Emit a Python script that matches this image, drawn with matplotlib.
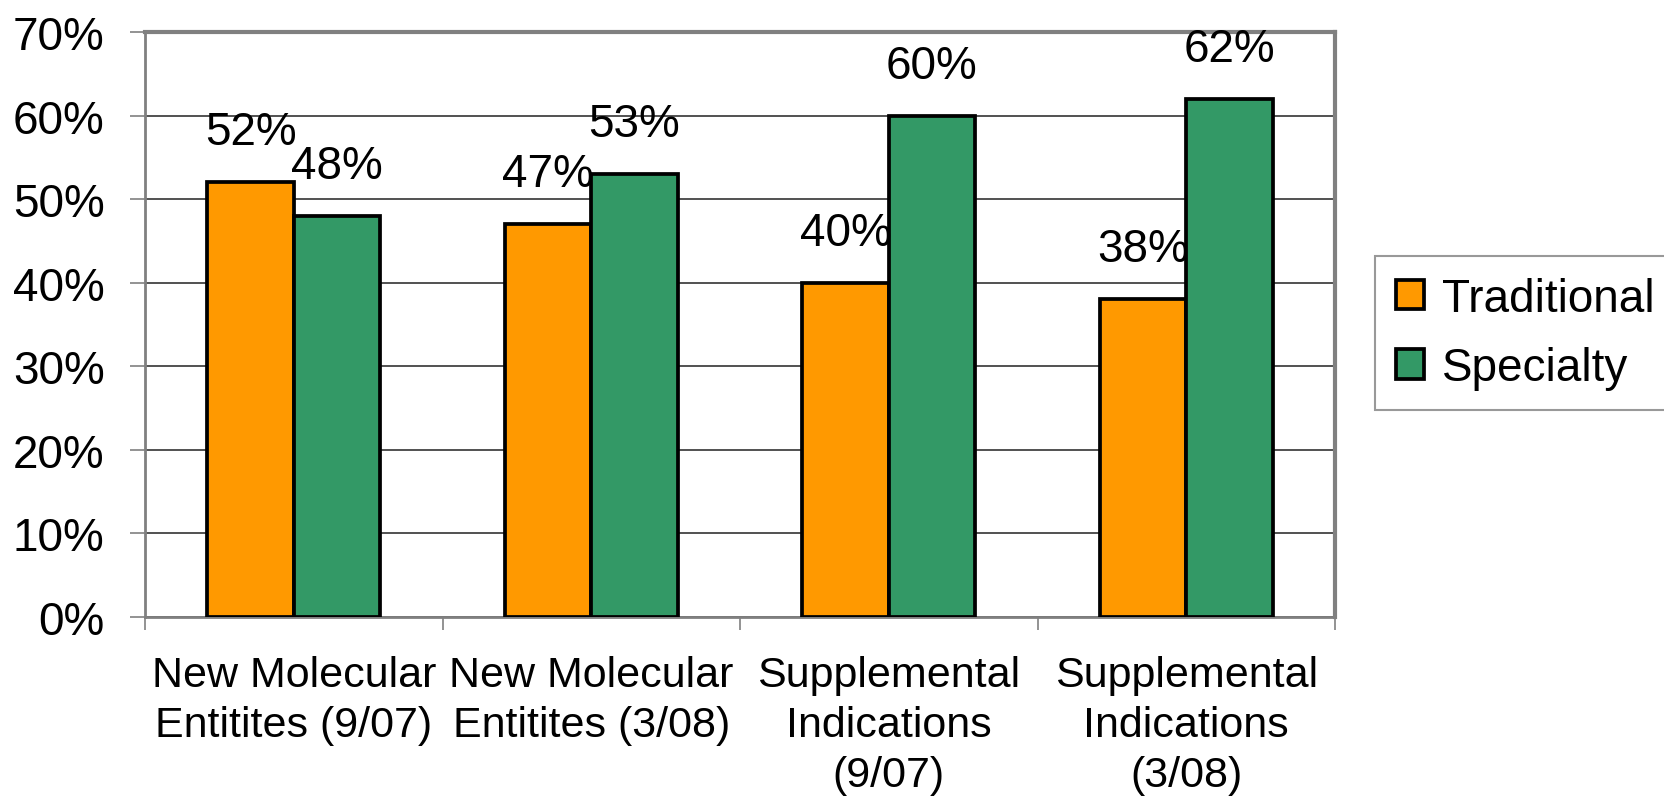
import numpy as np
import matplotlib
matplotlib.use("Agg")
import matplotlib.pyplot as plt

# Share of approvals by drug type
categories = [
    "New Molecular\nEntitites (9/07)",
    "New Molecular\nEntitites (3/08)",
    "Supplemental\nIndications\n(9/07)",
    "Supplemental\nIndications\n(3/08)",
]
traditional = [52, 47, 40, 38]
specialty = [48, 53, 60, 62]
series_names = ["Traditional", "Specialty"]
y_ticks = [0, 10, 20, 30, 40, 50, 60, 70]

ORANGE = "#FF9900"
GREEN = "#339966"
GRAY = "#808080"

plt.rcParams["font.family"] = ["Liberation Sans", "DejaVu Sans"]
FS = 33
FS_CAT = 31

fig = plt.figure(figsize=(16.65, 8.12), dpi=100)
ax = fig.add_axes([0.0871, 0.2389, 0.7147, 0.7205])

x = np.arange(len(categories))
width = 0.29
bars_t = ax.bar(x - width / 2, traditional, width, color=ORANGE,
                edgecolor="black", linewidth=2.7, label=series_names[0], zorder=3)
bars_s = ax.bar(x + width / 2, specialty, width, color=GREEN,
                edgecolor="black", linewidth=2.7, label=series_names[1], zorder=3)

# Value labels sit a fixed distance above each bar
for bars, vals in ((bars_t, traditional), (bars_s, specialty)):
    for b, v in zip(bars, vals):
        ax.annotate(f"{v}%", (b.get_x() + b.get_width() / 2, v),
                    xytext=(0, 38), textcoords="offset pixels",
                    ha="center", va="baseline", fontsize=FS, zorder=4)

ax.set_xlim(-0.5, len(categories) - 0.5)
ax.set_ylim(0, 70)
ax.set_yticks(y_ticks)
ax.set_yticklabels([f"{t}%" for t in y_ticks])
ax.yaxis.grid(True, color="#333333", linewidth=1.2, zorder=0)
ax.set_axisbelow(True)

# Category ticks sit on the group boundaries, labels at the centres
ax.set_xticks(np.arange(len(categories) + 1) - 0.5)
ax.set_xticklabels([])
ax.set_xticks(x, minor=True)
ax.set_xticklabels(categories, minor=True, fontsize=FS_CAT, linespacing=1.33)
ax.tick_params(axis="x", which="minor", length=0, pad=27)
ax.tick_params(axis="x", which="major", length=9, width=1.2, color=GRAY)
ax.tick_params(axis="y", length=11, width=1.2, color=GRAY, pad=18, labelsize=FS)

for side, lw in (("left", 2), ("bottom", 2), ("top", 3), ("right", 3)):
    ax.spines[side].set_color(GRAY)
    ax.spines[side].set_linewidth(lw)

leg = fig.legend(loc="upper left", bbox_to_anchor=(1375 / 1665, 1 - 257 / 812),
                 fontsize=FS, frameon=True, fancybox=False, edgecolor=GRAY,
                 handlelength=0.62, handleheight=0.62, handletextpad=0.4,
                 labelspacing=0.55, borderpad=0.45, borderaxespad=0)
leg.get_frame().set_linewidth(1.5)
for h in leg.legend_handles:
    h.set_linewidth(2.7)

fig.savefig("out.png", dpi=100, facecolor="white")
